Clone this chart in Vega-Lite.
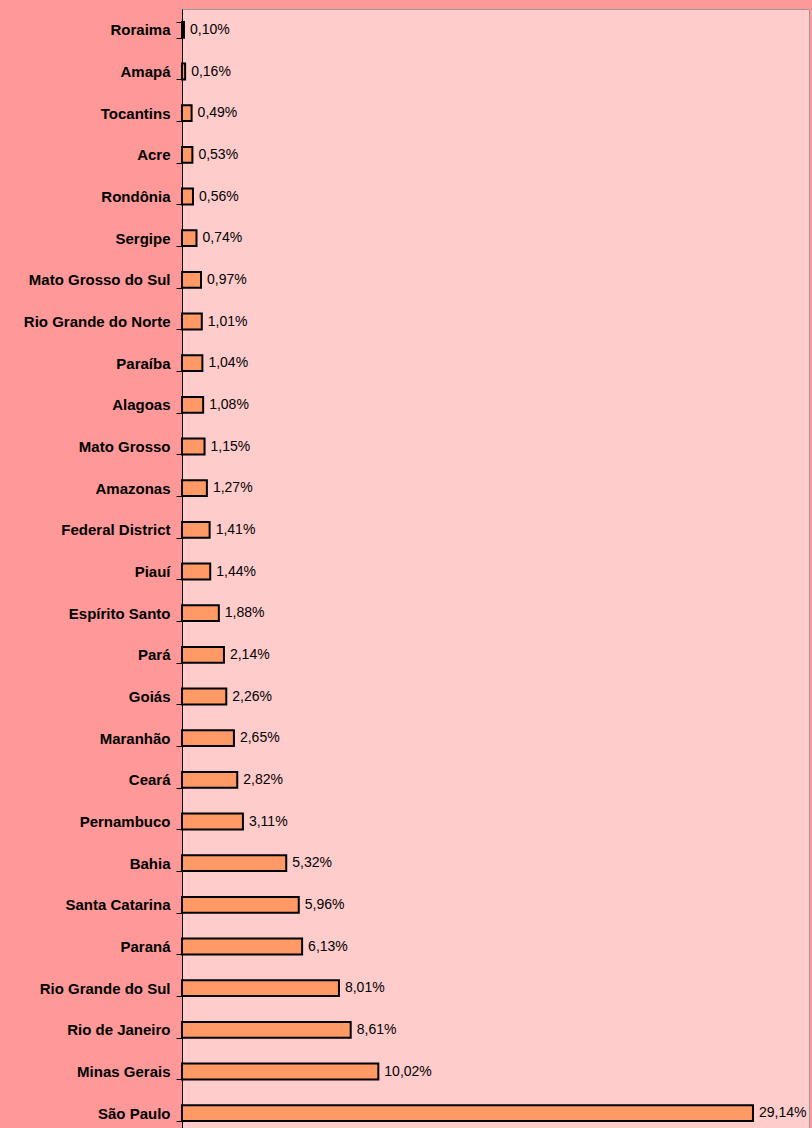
{
  "$schema": "https://vega.github.io/schema/vega-lite/v6.json",
  "autosize": "none",
  "width": 627,
  "height": 1125,
  "padding": {"left": 182, "top": 9, "right": 3, "bottom": 0},
  "background": "#FF9999",
  "config": {
    "view": {"fill": "#FFCCCC", "stroke": "#999999", "strokeWidth": 1},
    "font": "Liberation Sans"
  },
  "data": {
    "values": [
      {"state": "Roraima", "share": 0.10},
      {"state": "Amapá", "share": 0.16},
      {"state": "Tocantins", "share": 0.49},
      {"state": "Acre", "share": 0.53},
      {"state": "Rondônia", "share": 0.56},
      {"state": "Sergipe", "share": 0.74},
      {"state": "Mato Grosso do Sul", "share": 0.97},
      {"state": "Rio Grande do Norte", "share": 1.01},
      {"state": "Paraíba", "share": 1.04},
      {"state": "Alagoas", "share": 1.08},
      {"state": "Mato Grosso", "share": 1.15},
      {"state": "Amazonas", "share": 1.27},
      {"state": "Federal District", "share": 1.41},
      {"state": "Piauí", "share": 1.44},
      {"state": "Espírito Santo", "share": 1.88},
      {"state": "Pará", "share": 2.14},
      {"state": "Goiás", "share": 2.26},
      {"state": "Maranhão", "share": 2.65},
      {"state": "Ceará", "share": 2.82},
      {"state": "Pernambuco", "share": 3.11},
      {"state": "Bahia", "share": 5.32},
      {"state": "Santa Catarina", "share": 5.96},
      {"state": "Paraná", "share": 6.13},
      {"state": "Rio Grande do Sul", "share": 8.01},
      {"state": "Rio de Janeiro", "share": 8.61},
      {"state": "Minas Gerais", "share": 10.02},
      {"state": "São Paulo", "share": 29.14}
    ]
  },
  "transform": [
    {"calculate": "replace(format(datum.share, '.2f'), '.', ',') + '%'", "as": "label"}
  ],
  "encoding": {
    "y": {
      "field": "state",
      "type": "nominal",
      "sort": {"field": "share", "order": "ascending"},
      "scale": {"paddingInner": 0.62, "paddingOuter": 0.31},
      "axis": {
        "title": null,
        "labelFont": "Liberation Sans",
        "labelFontSize": 15,
        "labelFontWeight": "bold",
        "labelColor": "#000000",
        "labelPadding": 6,
        "tickBand": "extent",
        "tickSize": 6,
        "tickColor": "#000000",
        "domainColor": "#000000",
        "domainWidth": 1,
        "grid": false
      }
    },
    "x": {
      "field": "share",
      "type": "quantitative",
      "scale": {"domain": [0, 32], "nice": false},
      "axis": null
    }
  },
  "layer": [
    {
      "mark": {"type": "bar", "fill": "#FF9966", "stroke": "#000000", "strokeWidth": 2}
    },
    {
      "mark": {"type": "text", "align": "left", "baseline": "middle", "dx": 6, "fontSize": 14, "color": "#000000", "font": "Liberation Sans"},
      "encoding": {"text": {"field": "label"}}
    }
  ]
}
